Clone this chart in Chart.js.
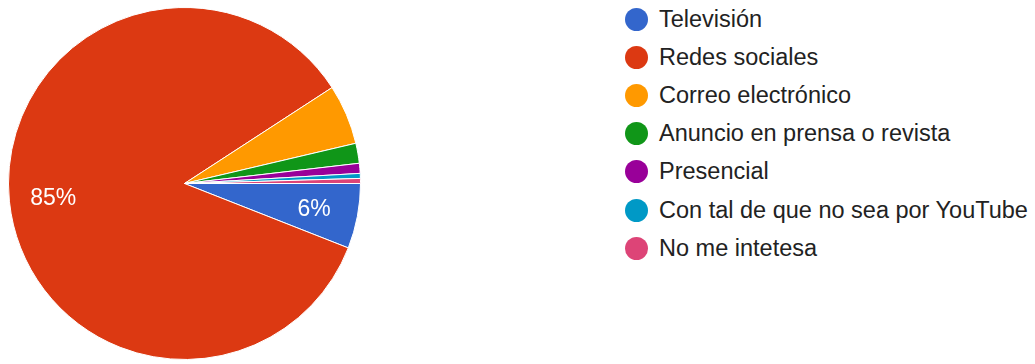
<!DOCTYPE html>
<html lang="es">
<head>
<meta charset="utf-8">
<title>Medios preferidos</title>
<script src="https://cdn.jsdelivr.net/npm/chart.js@4.4.1/dist/chart.umd.min.js"></script>
<style>
  html, body { margin: 0; padding: 0; background: #ffffff; }
  body { width: 1035px; height: 364px; position: relative; overflow: hidden; }
  #pieBox { position: absolute; left: 0; top: 0; width: 369px; height: 364px; }
  #legend { position: absolute; left: 625px; top: 0; margin: 0; padding: 0; list-style: none;
            font-family: "Liberation Sans", Arial, sans-serif; font-size: 23.5px; color: #222222; }
  #legend li { height: 38.2px; display: flex; align-items: center; white-space: nowrap; }
  #legend .dot { width: 23px; height: 23px; border-radius: 50%; margin-right: 11px; flex: none; }
</style>
</head>
<body>
<div id="pieBox"><canvas id="pie"></canvas></div>
<ul id="legend"></ul>
<script>
// Answer options and number of responses for each
const categories = [
  'Televisión',
  'Redes sociales',
  'Correo electrónico',
  'Anuncio en prensa o revista',
  'Presencial',
  'Con tal de que no sea por YouTube',
  'No me intetesa'
];
const responses = [13, 185, 12, 4, 2, 1, 1];
const sliceColors = ['#3366cc', '#dc3912', '#ff9900', '#109618', '#990099', '#0099c6', '#dd4477'];

// Slices smaller than this share get no percentage label
const labelMinShare = 0.058;

// Writes the rounded percentage inside each large-enough slice
const sliceLabels = {
  id: 'sliceLabels',
  afterDatasetsDraw(chart) {
    const ctx = chart.ctx;
    const meta = chart.getDatasetMeta(0);
    const values = chart.data.datasets[0].data;
    const total = values.reduce((a, b) => a + b, 0);
    ctx.save();
    ctx.fillStyle = '#ffffff';
    ctx.font = '23px "Liberation Sans", Arial, sans-serif';
    ctx.textAlign = 'center';
    ctx.textBaseline = 'middle';
    meta.data.forEach((arc, i) => {
      const share = values[i] / total;
      if (share < labelMinShare) return;
      const p = arc.getProps(['x', 'y', 'startAngle', 'endAngle', 'outerRadius'], true);
      const mid = (p.startAngle + p.endAngle) / 2;
      const r = p.outerRadius * 0.75;
      ctx.fillText(Math.round(share * 100) + '%', p.x + Math.cos(mid) * r, p.y + Math.sin(mid) * r + 2);
    });
    ctx.restore();
  }
};

const chart = new Chart(document.getElementById('pie'), {
  type: 'pie',
  data: {
    labels: categories,
    datasets: [{
      data: responses,
      backgroundColor: sliceColors,
      borderColor: '#ffffff',
      borderWidth: 1
    }]
  },
  options: {
    responsive: true,
    maintainAspectRatio: false,
    animation: false,
    rotation: 90,
    layout: { padding: { left: 8, right: 8, top: 7, bottom: 4 } },
    plugins: {
      legend: { display: false },
      tooltip: { enabled: false }
    }
  },
  plugins: [sliceLabels]
});

// Legend list built from the same categories and colours
const legendEl = document.getElementById('legend');
categories.forEach((name, i) => {
  const li = document.createElement('li');
  const dot = document.createElement('span');
  dot.className = 'dot';
  dot.style.background = sliceColors[i];
  li.appendChild(dot);
  li.appendChild(document.createTextNode(name));
  legendEl.appendChild(li);
});
</script>
</body>
</html>
